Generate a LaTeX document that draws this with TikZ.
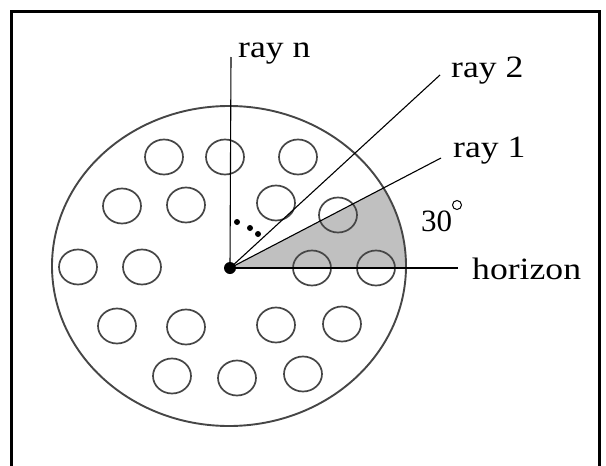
\documentclass[tikz,border=0pt]{standalone}
\usepackage{fontspec}
\setmainfont{Liberation Serif}
\definecolor{rimgray}{RGB}{70,70,70}
\definecolor{sectorgray}{RGB}{192,192,192}
\begin{document}
\begin{tikzpicture}[x=1pt,y=-1pt,
  frame/.style={line width=3pt,black},
  rim/.style={draw=rimgray,line width=1.9pt},
  hole/.style={draw=rimgray,line width=1.7pt},
  ray/.style={line width=1.1pt,black},
  lbl/.style={inner sep=0pt,font=\fontsize{31}{31}\selectfont},
  hub/.style={circle,fill=black,inner sep=0pt,minimum size=12pt},
  tick/.style={circle,fill=black,inner sep=0pt,minimum size=6pt}]
\useasboundingbox (0,0) rectangle (606,466);

% open frame: left, top and right sides
\draw[frame] (11,466) -- (11,11) -- (599,11) -- (599,466);

% shaded 30 degree sector, limited to the disc
\begin{scope}
  \clip (229,266) ellipse [x radius=177, y radius=160];
  \fill[sectorgray] (230,268) -- (441,268) -- (441,158) -- cycle;
\end{scope}

% the disc
\draw[rim] (229,266) ellipse [x radius=177, y radius=160];

% holes in the disc
\foreach \hx/\hy in {164/157, 225/157, 298/157,
                     122/206, 186/205, 276/203, 338/215,
                     78/267, 142/267, 312/268, 376/268,
                     117/326, 186/327, 276/325, 342/324,
                     172/376, 237/378, 303/374}
  \draw[hole] (\hx,\hy) ellipse [x radius=19, y radius=17.5];

% centre and rays
\node[hub] (o) at (230,268) {};
\coordinate (en) at (231,57);
\coordinate (e2) at (440,75);
\coordinate (e1) at (441,158);
\coordinate (eh) at (458,268);
\draw[ray] (o.center) -- (en);
\draw[ray] (o.center) -- (e2);
\draw[ray] (o.center) -- (e1);
\draw[ray] (o.center) -- (eh);

% ellipsis between ray 2 and ray n
\node[tick] (d1) at (237,222) {};
\node[tick] (d2) at (250,228) {};
\node[tick] (d3) at (258,234) {};

% labels
\node[lbl,anchor=base west] (ln) at (238,57) {\scalebox{1.15}[1]{ray n}};
\node[lbl,anchor=base west] (l2) at (451,77) {\scalebox{1.15}[1]{ray 2}};
\node[lbl,anchor=base west] (l1) at (453,157) {\scalebox{1.15}[1]{ray 1}};
\node[lbl,anchor=base west] (lh) at (472,279) {\scalebox{1.15}[1]{horizon}};
\node[lbl,anchor=base west] (la) at (421,231) {30};
\draw[line width=1pt] (457,205) circle [radius=4.5];
\end{tikzpicture}
\end{document}
